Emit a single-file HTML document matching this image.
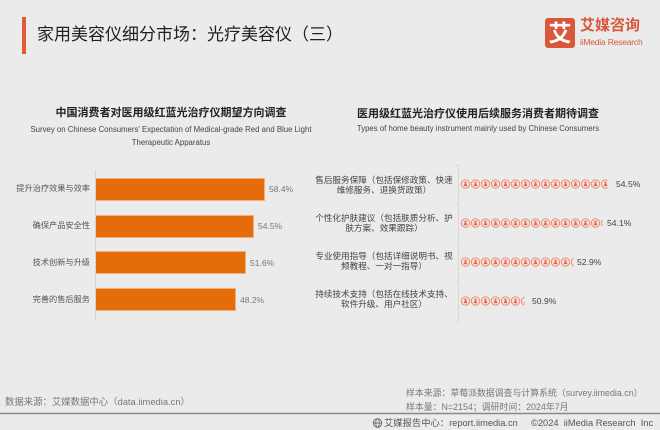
<!DOCTYPE html>
<html><head><meta charset="utf-8">
<style>
*{margin:0;padding:0;box-sizing:border-box}
body{width:660px;height:430px;background:#ebebeb;position:relative;overflow:hidden;font-family:"Liberation Sans","Noto Sans CJK SC",sans-serif;}
.a{position:absolute;white-space:nowrap}
.cl{font-size:8.2px;line-height:12px;color:#555;text-align:right;right:570px}
.vl{font-size:8.5px;line-height:12px;color:#777}
.rl{font-size:8.6px;line-height:10px;color:#444;text-align:center;width:150px;left:309px}
.rv{font-size:8.6px;line-height:12px;color:#444}
.bar{position:absolute;left:96px;height:21px;background:#e46c0a;box-shadow:0 0 0 1px #f0b07c}
</style></head><body>

<!-- header -->
<div class="a" style="left:22px;top:17px;width:4px;height:37px;background:#e05a33"></div>
<div class="a" style="left:37px;top:24px;font-size:17px;line-height:22px;color:#1f1f1f">家用美容仪细分市场：光疗美容仪（三）</div>
<div class="a" style="left:545px;top:18px;width:30px;height:30px;background:#d9573b;border-radius:3px;color:#fff;font-size:23px;line-height:30px;text-align:center;font-weight:bold">艾</div>
<div class="a" style="left:580px;top:17px;font-size:15px;line-height:18px;color:#d9573b;font-weight:bold">艾媒咨询</div>
<div class="a" style="left:580px;top:37px;font-size:8.5px;line-height:10px;color:#d9573b;letter-spacing:-0.2px">iiMedia Research</div>

<!-- left chart titles -->
<div class="a" style="left:0;width:342px;text-align:center;top:106px;font-size:11px;line-height:14px;font-weight:bold;color:#222">中国消费者对医用级红蓝光治疗仪期望方向调查</div>
<div class="a" style="left:0;width:342px;text-align:center;top:125px;font-size:7.8px;line-height:10px;color:#444">Survey on Chinese Consumers' Expectation of Medical-grade Red and Blue Light</div>
<div class="a" style="left:0;width:342px;text-align:center;top:138px;font-size:7.8px;line-height:10px;color:#444">Therapeutic Apparatus</div>

<!-- right chart titles -->
<div class="a" style="left:327px;width:302px;text-align:center;top:107px;font-size:11px;line-height:14px;font-weight:bold;color:#222">医用级红蓝光治疗仪使用后续服务消费者期待调查</div>
<div class="a" style="left:327px;width:302px;text-align:center;top:124px;font-size:7.8px;line-height:10px;color:#444">Types of home beauty instrument mainly used by Chinese Consumers</div>

<!-- left bars -->
<div class="bar" style="top:178.5px;width:168px"></div>
<div class="bar" style="top:215.5px;width:157px"></div>
<div class="bar" style="top:252px;width:149px"></div>
<div class="bar" style="top:289px;width:139px"></div>

<div class="a cl" style="top:183px">提升治疗效果与效率</div>
<div class="a cl" style="top:220px">确保产品安全性</div>
<div class="a cl" style="top:256.5px">技术创新与升级</div>
<div class="a cl" style="top:293.5px">完善的售后服务</div>

<div class="a vl" style="left:269px;top:183px">58.4%</div>
<div class="a vl" style="left:258px;top:220px">54.5%</div>
<div class="a vl" style="left:250px;top:256.5px">51.6%</div>
<div class="a vl" style="left:240px;top:293.5px">48.2%</div>

<!-- right labels -->
<div class="a rl" style="top:174.5px">售后服务保障（包括保修政策、快速<br>维修服务、退换货政策）</div>
<div class="a rl" style="top:213px">个性化护肤建议（包括肤质分析、护<br>肤方案、效果跟踪）</div>
<div class="a rl" style="top:250.5px">专业使用指导（包括详细说明书、视<br>频教程、一对一指导）</div>
<div class="a rl" style="top:289px">持续技术支持（包括在线技术支持、<br>软件升级、用户社区）</div>

<div class="a rv" style="left:616px;top:178px">54.5%</div>
<div class="a rv" style="left:607px;top:217px">54.1%</div>
<div class="a rv" style="left:577px;top:256px">52.9%</div>
<div class="a rv" style="left:532px;top:295px">50.9%</div>

<svg class="a" style="left:0;top:0" width="660" height="430">
<defs>
<g id="ic"><circle cx="5" cy="5" r="4.2" fill="#f6e0d8" stroke="#e8866b" stroke-width="0.9"/><circle cx="5" cy="3.7" r="1.1" fill="#e0674c"/><path d="M3.2 7.1 Q3.4 4.9 5 4.9 Q6.6 4.9 6.8 7.1Z" fill="#e0674c"/></g>
<clipPath id="c1"><rect x="460.5" y="170" width="147" height="30"/></clipPath>
<clipPath id="c2"><rect x="460.5" y="210" width="142" height="30"/></clipPath>
<clipPath id="c3"><rect x="460.5" y="250" width="113" height="30"/></clipPath>
<clipPath id="c4"><rect x="460.5" y="290" width="64" height="30"/></clipPath>
</defs>
<!-- axes -->
<line x1="95.5" y1="170" x2="95.5" y2="320" stroke="#d4d4d4" stroke-width="1"/>
<line x1="458.5" y1="165" x2="458.5" y2="322" stroke="#d8d8d8" stroke-width="1"/>
<g stroke="#d8d8d8" stroke-width="1">
<line x1="455" y1="165.5" x2="458.5" y2="165.5"/>
<line x1="455" y1="203.5" x2="458.5" y2="203.5"/>
<line x1="455" y1="242.5" x2="458.5" y2="242.5"/>
<line x1="455" y1="281.5" x2="458.5" y2="281.5"/>
<line x1="455" y1="321.5" x2="458.5" y2="321.5"/>
</g>
<g clip-path="url(#c1)">
<use href="#ic" x="460.5" y="179"/><use href="#ic" x="470.5" y="179"/><use href="#ic" x="480.5" y="179"/><use href="#ic" x="490.5" y="179"/><use href="#ic" x="500.5" y="179"/><use href="#ic" x="510.5" y="179"/><use href="#ic" x="520.5" y="179"/><use href="#ic" x="530.5" y="179"/><use href="#ic" x="540.5" y="179"/><use href="#ic" x="550.5" y="179"/><use href="#ic" x="560.5" y="179"/><use href="#ic" x="570.5" y="179"/><use href="#ic" x="580.5" y="179"/><use href="#ic" x="590.5" y="179"/><use href="#ic" x="600.5" y="179"/>
</g>
<g clip-path="url(#c2)">
<use href="#ic" x="460.5" y="218"/><use href="#ic" x="470.5" y="218"/><use href="#ic" x="480.5" y="218"/><use href="#ic" x="490.5" y="218"/><use href="#ic" x="500.5" y="218"/><use href="#ic" x="510.5" y="218"/><use href="#ic" x="520.5" y="218"/><use href="#ic" x="530.5" y="218"/><use href="#ic" x="540.5" y="218"/><use href="#ic" x="550.5" y="218"/><use href="#ic" x="560.5" y="218"/><use href="#ic" x="570.5" y="218"/><use href="#ic" x="580.5" y="218"/><use href="#ic" x="590.5" y="218"/><use href="#ic" x="600.5" y="218"/>
</g>
<g clip-path="url(#c3)">
<use href="#ic" x="460.5" y="257"/><use href="#ic" x="470.5" y="257"/><use href="#ic" x="480.5" y="257"/><use href="#ic" x="490.5" y="257"/><use href="#ic" x="500.5" y="257"/><use href="#ic" x="510.5" y="257"/><use href="#ic" x="520.5" y="257"/><use href="#ic" x="530.5" y="257"/><use href="#ic" x="540.5" y="257"/><use href="#ic" x="550.5" y="257"/><use href="#ic" x="560.5" y="257"/><use href="#ic" x="570.5" y="257"/>
</g>
<g clip-path="url(#c4)">
<use href="#ic" x="460.5" y="296"/><use href="#ic" x="470.5" y="296"/><use href="#ic" x="480.5" y="296"/><use href="#ic" x="490.5" y="296"/><use href="#ic" x="500.5" y="296"/><use href="#ic" x="510.5" y="296"/><use href="#ic" x="520.5" y="296"/>
</g>
<!-- footer line -->
<line x1="0" y1="413.5" x2="660" y2="413.5" stroke="#8a8a8a" stroke-width="1.5"/>
<!-- footer globe icon -->
<g transform="translate(377.5,423)" fill="none" stroke="#666" stroke-width="0.9">
<circle r="4.3"/><ellipse rx="1.8" ry="4.3"/><line x1="-4.3" y1="0" x2="4.3" y2="0"/>
</g>
</svg>

<!-- footer -->
<div class="a" style="left:5px;top:395px;font-size:9.4px;line-height:13px;color:#777">数据来源：艾媒数据中心（data.iimedia.cn）</div>
<div class="a" style="left:406px;top:387px;font-size:8.9px;line-height:12px;color:#777">样本来源：草莓派数据调查与计算系统（survey.iimedia.cn）</div>
<div class="a" style="left:406px;top:401px;font-size:8.9px;line-height:12px;color:#777">样本量：N=2154；调研时间：2024年7月</div>
<div class="a" style="left:384px;top:417px;font-size:9.3px;line-height:12px;color:#555">艾媒报告中心：report.iimedia.cn</div>
<div class="a" style="left:531px;top:417px;font-size:9.3px;line-height:12px;color:#555">©2024&nbsp; iiMedia Research&nbsp; Inc</div>

</body></html>
